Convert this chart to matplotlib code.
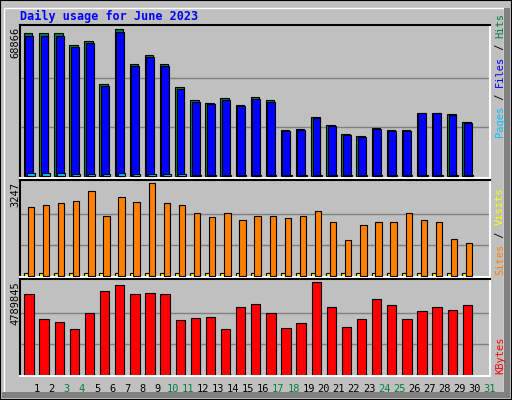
import matplotlib
matplotlib.use("Agg")
import matplotlib.pyplot as plt
from matplotlib.patches import Rectangle
import numpy as np

days = list(range(1, 32))
weekend = [3, 4, 10, 11, 17, 18, 24, 25, 31]

# values (30 days with data)
hits = [67000, 67000, 67000, 61400, 63300, 43200, 68900, 52600, 56800, 52600,
        41700, 35600, 34200, 36500, 33300, 37000, 35600, 21500, 22000, 27600,
        23900, 19700, 18700, 22500, 21500, 21500, 29900, 29900, 29000, 25300]
files = [h * 0.985 for h in hits]
pages = [h * 0.02 for h in hits]
sites = [2390, 2460, 2530, 2600, 2960, 2100, 2740, 2570, 3247, 2530,
         2460, 2180, 2070, 2180, 1960, 2100, 2100, 2030, 2100, 2250,
         1870, 1250, 1780, 1890, 1890, 2210, 1960, 1870, 1280, 1140]
visits = [100] * 30
kbytes = [4150000, 2880000, 2720000, 2350000, 3200000, 4310000, 4630000, 4150000, 4200000, 4150000,
          2820000, 2930000, 2980000, 2350000, 3510000, 3670000, 3190000, 2400000, 2660000, 4789845,
          3510000, 2450000, 2880000, 3880000, 3620000, 2880000, 3300000, 3510000, 3350000, 3620000]

W, H = 512, 400
fig = plt.figure(figsize=(W / 100, H / 100), dpi=100)
fig.patch.set_facecolor("#c0c0c0")
mono = "DejaVu Sans Mono"

# outer frame
fig.add_artist(Rectangle((0, 0), 1, 1, transform=fig.transFigure, fill=False, ec="black", lw=1.5))
fig.add_artist(Rectangle((4 / W, 4 / H), (W - 12) / W, (H - 12) / H, transform=fig.transFigure,
                         fill=False, ec="white", lw=1))
fig.add_artist(Rectangle((504 / W, 2 / H), 6 / W, 390 / H, transform=fig.transFigure,
                         fc="#808080", ec="none"))
fig.add_artist(Rectangle((2 / W, 2 / H), 508 / W, 6 / H, transform=fig.transFigure,
                         fc="#808080", ec="none"))


def px_axes(top, bottom):
    return fig.add_axes([20 / W, 1 - bottom / H, 470 / W, (bottom - top) / H])


def style(ax, vmax):
    ax.set_facecolor("#c0c0c0")
    ax.set_xlim(0.4, 31.5)
    ax.set_ylim(-vmax * 0.012, vmax * 1.03)
    for f in (1 / 3, 2 / 3):
        ax.axhline(vmax * f, color="#808080", lw=1, zorder=0)
    ax.set_xticks([])
    ax.set_yticks([])
    for s in ax.spines.values():
        s.set_color("white")
        s.set_linewidth(1.5)
    ax.spines["left"].set_color("black")
    ax.spines["top"].set_color("black")


x = np.arange(1, 31)

ax1 = px_axes(25, 178)
style(ax1, max(hits))
ax1.bar(x - 0.06, hits, width=0.56, color="#008040", ec="black", lw=0.8, zorder=2)
ax1.bar(x + 0.02, files, width=0.52, color="#0000ff", ec="black", lw=0.8, zorder=3)
ax1.bar(x + 0.12, pages, width=0.5, color="#00c0ff", ec="black", lw=0.8, zorder=4)

ax2 = px_axes(180, 277)
style(ax2, max(sites))
ax2.bar(x - 0.2, visits, width=0.28, color="#ffff00", ec="black", lw=0.8, zorder=2)
ax2.bar(x + 0.12, sites, width=0.42, color="#ff8000", ec="black", lw=0.8, zorder=3)

ax3 = px_axes(279, 376)
style(ax3, max(kbytes))
ax3.bar(x, kbytes, width=0.62, color="#ff0000", ec="black", lw=0.8, zorder=2)

fig.text(20 / W, 1 - 16 / H, "Daily usage for June 2023", color="#0000ff", family=mono,
         fontweight="bold", fontsize=8.5, va="center", ha="left")

for top, lab in [(25, "68866"), (180, "3247"), (279, "4789845")]:
    fig.text(15 / W, 1 - (top + 2) / H, lab, rotation=90, family=mono, fontsize=7.5,
             ha="center", va="top")

for d in days:
    fig.text((20 + (d - 0.4 + 0.5) * 470 / 31.1) / W, 1 - 389 / H, str(d), family=mono, fontsize=7.5,
             ha="center", va="center", color="#008040" if d in weekend else "black")

cw = 6.2  # px per char


def side(start_px, parts):
    y = start_px
    for txt, col in parts:
        fig.text(500 / W, 1 - y / H, txt, rotation=90, family=mono, fontsize=7.5,
                 color=col, ha="center", va="bottom")
        y -= cw * len(txt)


side(137, [("Pages", "#00c0ff"), (" / ", "black"), ("Files", "#0000ff"), (" / ", "black"),
           ("Hits", "#008040")])
side(275, [("Sites", "#ff8000"), (" / ", "black"), ("Visits", "#ffff00")])
side(374, [("KBytes", "#ff0000")])

fig.savefig("out.png", dpi=100, facecolor=fig.get_facecolor())
